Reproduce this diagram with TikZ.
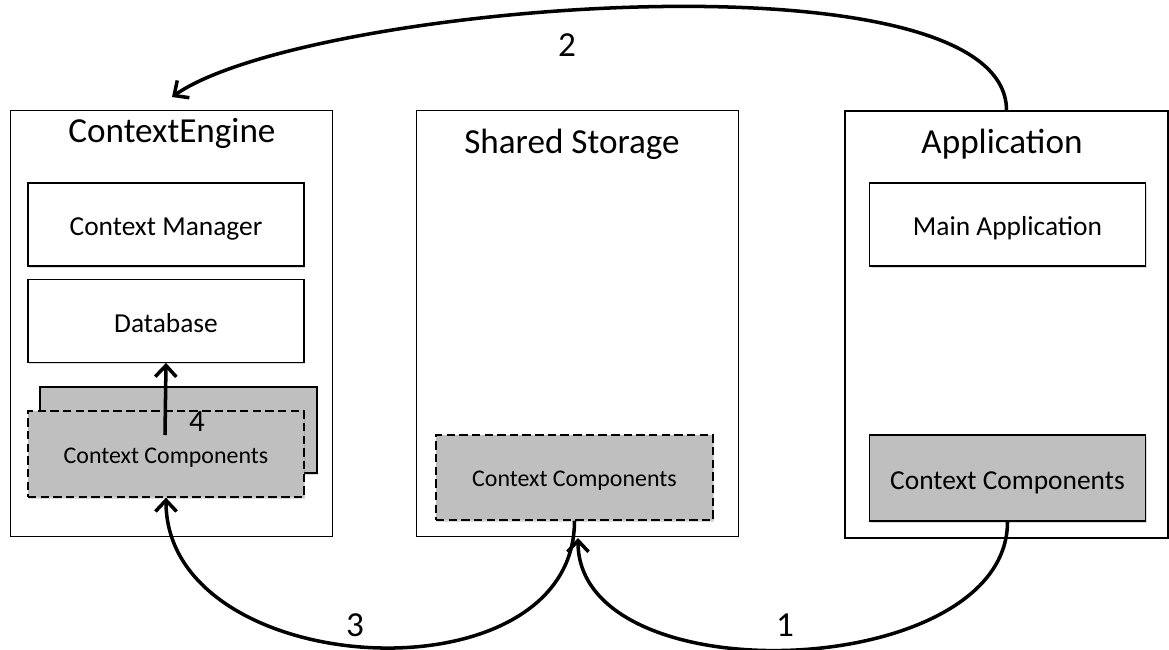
\documentclass[tikz,border=0pt]{standalone}
\usepackage{fontspec}
\setmainfont{Carlito}
\usetikzlibrary{positioning,arrows.meta,shadows}
\definecolor{compgray}{HTML}{BFBFBF}

\tikzset{
  container/.style={draw, line width=0.9pt, minimum width=8.05cm, minimum height=10.65cm, inner sep=0pt},
  part/.style={draw, fill=white, line width=0.9pt, minimum width=6.9cm, minimum height=2.075cm,
    font=\fontsize{19.5}{22}\selectfont, text height=16pt, text depth=0pt,
    drop shadow={shadow xshift=1pt, shadow yshift=-1.5pt, opacity=0.3}},
  comp/.style={part, fill=compgray},
  ghost/.style={comp, dash pattern=on 6pt off 3pt, font=\fontsize{17}{20}\selectfont, text height=13.5pt},
  title/.style={font=\fontsize{25}{28}\selectfont, anchor=base},
  num/.style={font=\fontsize{25}{28}\selectfont},
  flow/.style={line width=2.5pt, -{Straight Barb[length=8pt,width=15pt]}},
}

\begin{document}
\begin{tikzpicture}[x=0.025cm, y=-0.025cm]
\useasboundingbox (0,0) rectangle (1169,650);

% context engine
\node[container] (engine) at (171.5,323.5) {};
\node[title] (enginetitle) at (172,142) {ContextEngine};
\node[part] (manager) at (166,224.5) {Context Manager};
\node[part, below=0.3cm of manager] (database) {Database};
\node[comp, minimum width=6.925cm, minimum height=2.15cm] (enginecompback) at (178.5,430) {};
\node[ghost, minimum height=2.15cm] (enginecomp) at (166,454) {Context Components};

% shared storage
\node[container] (storage) at (577.5,323.5) {};
\node[title] (storagetitle) at (572,153) {Shared Storage};
\node[ghost, minimum width=6.925cm, minimum height=2.125cm] (storagecomp) at (574.5,477.5) {Context Components};

% application
\node[container, minimum width=8.075cm, minimum height=10.675cm] (app) at (1006.5,324.5) {};
\node[title] (apptitle) at (1002,153) {Application};
\node[part] (mainapp) at (1007.5,224.5) {Main Application};
\node[comp, minimum height=2.15cm] (appcomp) at (1007.5,478) {Context Components};

% flows
\coordinate (storagein) at (578,538);
\coordinate (enginein) at (172,97);
\coordinate (dbfrom) at (165,435);
\draw[flow] (appcomp.south) to[out=-90,in=-90,looseness=0.95] (storagein);
\draw[flow] (app.north) to[out=90,in=35,looseness=0.5] (enginein);
\draw[flow] (storagecomp.south) to[out=-90,in=-90,looseness=1.15] (enginecomp.south);
\draw[flow] (dbfrom) -- (database.south);

\node[num] (lblone) at (785,625) {1};
\node[num] (lbltwo) at (567,45) {2};
\node[num] (lblthree) at (355,625) {3};
\node[num, font=\fontsize{22}{26}\selectfont] (lblfour) at (197,422) {4};
\end{tikzpicture}
\end{document}
